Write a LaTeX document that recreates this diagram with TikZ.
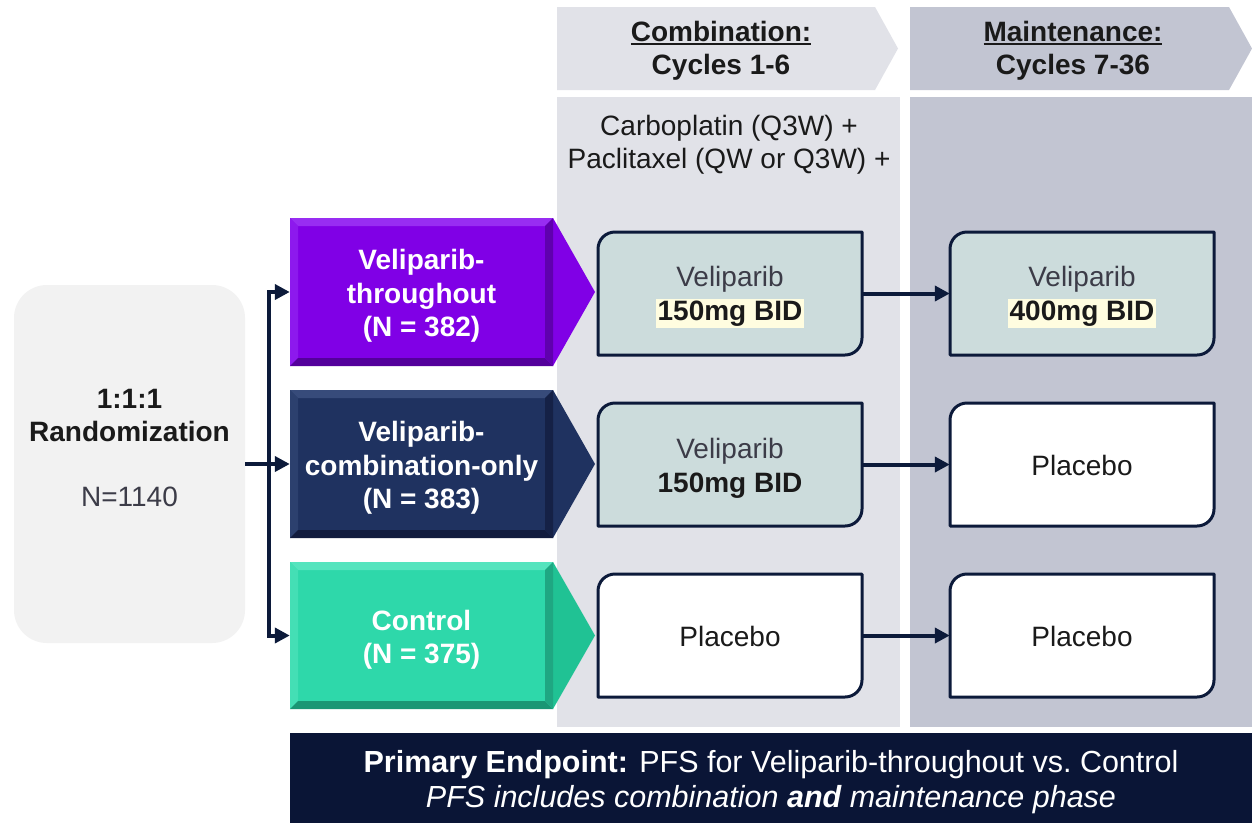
\documentclass[tikz,border=0pt]{standalone}
\usepackage{fontspec}
\setmainfont{Liberation Sans}
\usetikzlibrary{arrows.meta}
\definecolor{combc}{RGB}{225,226,232}
\definecolor{maintc}{RGB}{194,197,210}
\definecolor{randc}{RGB}{242,242,242}
\definecolor{arrowc}{RGB}{12,26,58}
\definecolor{bannerc}{RGB}{10,21,54}
\definecolor{tealbox}{RGB}{204,220,220}
\definecolor{hly}{RGB}{255,253,224}
\definecolor{txtc}{RGB}{26,26,26}
\definecolor{greyt}{RGB}{60,60,72}
\definecolor{purp}{RGB}{128,0,230}
\definecolor{purpL}{RGB}{152,45,242}
\definecolor{purpD}{RGB}{84,0,155}
\definecolor{navy}{RGB}{31,50,96}
\definecolor{navyL}{RGB}{55,75,122}
\definecolor{navyD}{RGB}{18,28,62}
\definecolor{teal}{RGB}{46,216,170}
\definecolor{tealL}{RGB}{85,228,190}
\definecolor{tealD}{RGB}{26,150,116}
\definecolor{tealT}{RGB}{32,194,148}
\newcommand\ulbar[1]{\setbox0\hbox{#1}\rlap{\rule[-4pt]{\wd0}{2.2pt}}\box0}
\newcommand\hlt[1]{{\setlength\fboxsep{2pt}\colorbox{hly}{#1}}}
% x1 y1 x2 y2 tip main light dark triangle
\newcommand\armshape[9]{%
  \fill[#9] (#3,#2) -- (#5,{(#2+#4)/2}) -- (#3,#4) -- cycle;
  \fill[#6] (#1,#2) rectangle (#3,#4);
  \fill[#7] (#1,#2) -- (#3,#2) -- (#3-8,#2+8) -- (#1+8,#2+8) -- cycle;
  \fill[#7!55!#6] (#1,#2) -- (#1+8,#2+8) -- (#1+8,#4-8) -- (#1,#4) -- cycle;
  \fill[#8] (#1,#4) -- (#1+8,#4-8) -- (#3-8,#4-8) -- (#3,#4) -- cycle;
  \fill[#8!75!#6] (#3,#2) -- (#3-8,#2+8) -- (#3-8,#4-8) -- (#3,#4) -- cycle;
}
% x1 y1 x2 y2 fill
\newcommand\trtshape[5]{%
  \draw[line width=3pt, draw=arrowc, fill=#5, line join=round]
    (#1,#2+17) .. controls (#1,#2+7.6) and (#1+7.6,#2) .. (#1+17,#2)
    -- (#3,#2) -- (#3,#4-17)
    .. controls (#3,#4-7.6) and (#3-7.6,#4) .. (#3-17,#4)
    -- (#1,#4) -- cycle;
}
\begin{document}
\begin{tikzpicture}[x=1pt,y=-1pt,
  font=\fontsize{28}{33.5}\selectfont,
  hdr/.style={align=center, text=txtc, font=\fontsize{28}{33}\selectfont\bfseries, inner sep=0},
  txt/.style={align=center, text=txtc, inner sep=0},
  armbox/.style={inner sep=0, minimum width=263},
  armlab/.style={align=center, text=white, font=\fontsize{28}{33.5}\selectfont\bfseries, inner sep=0, yshift=-4pt},
  trt/.style={inner sep=0, minimum width=264, minimum height=123},
  trtlab/.style={align=center, text=txtc, inner sep=0, yshift=-4pt},
  onelab/.style={align=center, text=txtc, inner sep=0, yshift=-0.5pt},
  conn/.style={line width=4pt, draw=arrowc},
  tip/.style={-{Triangle[length=15pt,width=15pt]}}
]
\useasboundingbox (0,0) rectangle (1252,823);
\fill[white] (0,0) rectangle (1252,823);
% column backgrounds
\fill[combc] (557,97) rectangle (900,727);
\fill[maintc] (910,97) rectangle (1252,727);
\fill[combc] (557,7) -- (875,7) -- (898,48.5) -- (875,90) -- (557,90) -- cycle;
\fill[maintc] (910,7) -- (1229,7) -- (1252,48.5) -- (1229,90) -- (910,90) -- cycle;
\node[hdr] (hc) at (721,50.5) {\ulbar{Combination:}\\Cycles 1-6};
\node[hdr] (hm) at (1073,50.5) {\ulbar{Maintenance:}\\Cycles 7-36};
\node[txt] (chemo) at (729,144.5) {Carboplatin (Q3W) +\\Paclitaxel (QW or Q3W) +};
% randomization
\node[fill=randc, rounded corners=33pt, minimum width=231, minimum height=358, inner sep=0, align=center, text=txtc, font=\fontsize{28}{32.5}\selectfont] (rand) at (129.5,464)
  {\textbf{1:1:1}\\\textbf{Randomization}\\\mbox{}\\\textcolor{greyt}{N=1140}\\\mbox{}};
% arms
\armshape{290}{218}{553}{366}{595}{purp}{purpL}{purpD}{purp}
\node[armbox, minimum height=148, label={[armlab]center:{Veliparib-\\throughout\\(N = 382)}}] (arm1) at (421.5,292) {};
\armshape{290}{390}{553}{538}{595}{navy}{navyL}{navyD}{navy}
\node[armbox, minimum height=148, label={[armlab]center:{Veliparib-\\combination-only\\(N = 383)}}] (arm2) at (421.5,464) {};
\armshape{290}{562}{553}{709}{595}{teal}{tealL}{tealD}{tealT}
\node[armbox, minimum height=147, label={[armlab]center:{Control\\(N = 375)}}] (arm3) at (421.5,635.5) {};
% randomization connectors
\draw[conn] (rand.east) -- ++(23.5,0) coordinate (split);
\draw[conn, tip, line join=miter] (split) |- (arm1.west);
\draw[conn, tip, line join=miter] (split) |- (arm3.west);
\draw[conn, tip] (split) -- (arm2.west);
% treatment boxes
\trtshape{598}{232}{862}{355}{tealbox}
\node[trt, label={[trtlab]center:{\textcolor{greyt}{Veliparib}\\\textbf{\hlt{150mg BID}}}}] (c1) at (730,293.5) {};
\trtshape{598}{403}{862}{526}{tealbox}
\node[trt, label={[trtlab]center:{\textcolor{greyt}{Veliparib}\\\textbf{150mg BID}}}] (c2) at (730,464.5) {};
\trtshape{598}{574}{862}{697}{white}
\node[trt, label={[onelab]center:{Placebo}}] (c3) at (730,635.5) {};
\trtshape{950}{232}{1214}{355}{tealbox}
\node[trt, label={[trtlab]center:{\textcolor{greyt}{Veliparib}\\\textbf{\hlt{400mg BID}}}}] (m1) at (1082,293.5) {};
\trtshape{950}{403}{1214}{526}{white}
\node[trt, label={[onelab]center:{Placebo}}] (m2) at (1082,464.5) {};
\trtshape{950}{574}{1214}{697}{white}
\node[trt, label={[onelab]center:{Placebo}}] (m3) at (1082,635.5) {};
\draw[conn, tip] (c1.east) -- (m1.west);
\draw[conn, tip] (c2.east) -- (m2.west);
\draw[conn, tip] (c3.east) -- (m3.west);
% banner
\fill[bannerc] (290,733) rectangle (1252,823);
\node[text=white, align=center, inner sep=0, font=\fontsize{30.5}{35}\selectfont] (pe) at (771,782)
  {\textbf{Primary Endpoint:} PFS for Veliparib-throughout vs.\ Control\\\textit{PFS includes combination \textbf{and} maintenance phase}};
\end{tikzpicture}
\end{document}
